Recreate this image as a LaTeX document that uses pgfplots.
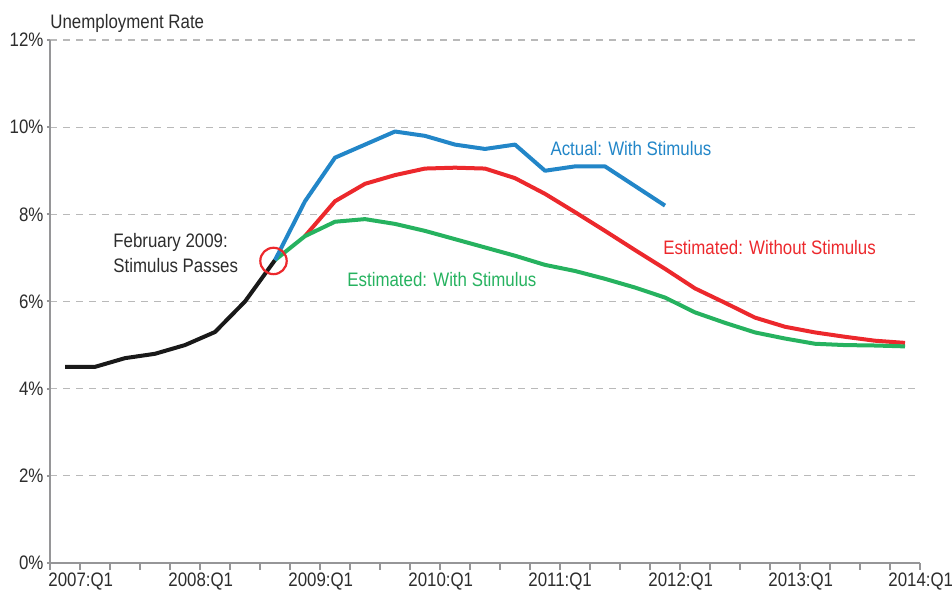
\documentclass[border=0pt]{standalone}
\usepackage{pgfplots}
\pgfplotsset{compat=1.18}
\usepackage{fontspec}
\setmainfont{Liberation Sans}[FakeStretch=0.865]
\definecolor{axisgray}{RGB}{150,150,152}
\definecolor{gridgray}{RGB}{185,185,185}
\definecolor{actblue}{RGB}{34,134,200}
\definecolor{estred}{RGB}{236,40,44}
\definecolor{estgreen}{RGB}{38,178,95}
\definecolor{txtgray}{RGB}{45,45,45}
\newcommand{\lbl}{\fontsize{9.75}{12.5}\selectfont}
\begin{document}
\begin{tikzpicture}
\path[use as bounding box] (-25pt,-14.5pt) rectangle (451pt,281.5pt);
\begin{axis}[
  scale only axis, width=435pt, height=261.5pt,
  xmin=0, xmax=29, ymin=0, ymax=12,
  axis x line*=bottom, axis y line*=left,
  axis line style={axisgray, line width=1.3pt},
  xtick={0,4,...,28},
  xticklabels={2007:Q1,2008:Q1,2009:Q1,2010:Q1,2011:Q1,2012:Q1,2013:Q1,2014:Q1},
  minor xtick={0,...,29},
  ytick={0,2,...,12},
  yticklabel={\pgfmathprintnumber{\tick}\%},
  ymajorgrids,
  grid style={gridgray, dash pattern=on 3.5pt off 3pt, line width=0.6pt},
  tick style={axisgray, line width=1pt},
  major tick length=1.6pt, minor tick length=3.5pt,
  tick align=outside,
  tick label style={font=\lbl, text=txtgray},
  x tick label style={anchor=north west, inner xsep=0pt, inner ysep=3pt, xshift=-1pt},
  y tick label style={inner xsep=1.5pt},
  /pgf/number format/assume math mode=true,
  clip=false,
]
% actual, before the stimulus
\addplot[black!90, line width=2pt, line join=round] coordinates {
  (0.5,4.5)(1.5,4.5)(2.5,4.7)(3.5,4.8)(4.5,5.0)(5.5,5.3)(6.5,6.0)(7.5,6.95)
};
% estimated without stimulus
\addplot[estred, line width=2pt, line join=round] coordinates {
  (8.5,7.5)(9.5,8.3)(10.5,8.7)(11.5,8.9)(12.5,9.05)(13.5,9.07)(14.5,9.05)
  (15.5,8.83)(16.5,8.47)(17.5,8.05)(18.5,7.62)(19.5,7.18)(20.5,6.75)(21.5,6.3)
  (22.5,5.97)(23.5,5.63)(24.5,5.42)(25.5,5.29)(26.5,5.19)(27.5,5.1)(28.5,5.05)
};
% estimated with stimulus
\addplot[estgreen, line width=2pt, line join=round] coordinates {
  (7.5,6.95)(8.5,7.5)(9.5,7.83)(10.5,7.89)(11.5,7.78)(12.5,7.62)(13.5,7.43)
  (14.5,7.24)(15.5,7.05)(16.5,6.84)(17.5,6.7)(18.5,6.52)(19.5,6.32)(20.5,6.09)
  (21.5,5.75)(22.5,5.51)(23.5,5.29)(24.5,5.15)(25.5,5.03)(26.5,5.0)(27.5,4.99)(28.5,4.97)
};
% actual with stimulus
\addplot[actblue, line width=2pt, line join=round] coordinates {
  (7.5,6.95)(8.5,8.3)(9.5,9.3)(10.5,9.6)(11.5,9.9)(12.5,9.8)(13.5,9.6)(14.5,9.5)
  (15.5,9.6)(16.5,9.0)(17.5,9.1)(18.5,9.1)(19.5,8.65)(20.5,8.2)
};
% stimulus marker
\addplot[only marks, mark=o, mark size=6.6pt, mark options={draw=estred, line width=1.1pt}]
  coordinates {(7.45,6.93)};

\node[anchor=base west, font=\lbl, text=txtgray, inner sep=0pt]
  at (rel axis cs:0,1) [yshift=5.5pt] {Unemployment Rate};
\node[anchor=west, font=\lbl, text=actblue, inner sep=0pt] at (axis cs:16.67,9.52) {Actual: With Stimulus};
\node[anchor=west, font=\lbl, text=estred, inner sep=0pt] at (axis cs:20.43,7.23) {Estimated: Without Stimulus};
\node[anchor=west, font=\lbl, text=estgreen, inner sep=0pt] at (axis cs:9.9,6.5) {Estimated: With Stimulus};
\node[anchor=west, font=\lbl, text=txtgray, inner sep=0pt, align=left] at (axis cs:2.1,7.12)
  {February 2009:\\Stimulus Passes};
\end{axis}
\end{tikzpicture}
\end{document}
